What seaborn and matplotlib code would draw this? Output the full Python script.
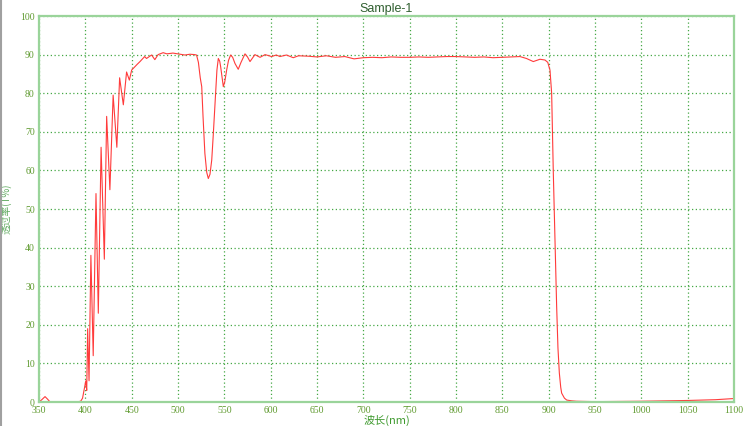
import matplotlib
matplotlib.use('Agg')
import matplotlib.pyplot as plt
import seaborn as sns
from matplotlib.lines import Line2D

# wavelength (nm) and transmittance (%)
wavelength = [350, 353, 356.5, 359, 362, 370, 380, 390, 395, 397, 399, 400.5, 401.5, 402.5,
              404, 406, 408.5, 411.5, 414, 417, 420.5, 423, 426.5, 430, 434, 437, 441, 444.5,
              447.5, 450, 452, 456, 459, 464, 466, 471.5, 475, 478.5, 484, 488, 494.5, 500,
              507.5, 513, 518, 520, 522, 524, 525.6, 527, 529, 531, 532.7, 534.5, 536.4, 538,
              540, 542, 543.5, 545, 546, 548.9, 550.5, 552.5, 554.5, 556.8, 559, 561.5, 565,
              568, 572.3, 575, 577.7, 580, 583, 588.5, 594, 601, 606, 610, 617, 624.4, 630,
              640, 650, 660, 670, 680, 690, 700, 710, 720, 730, 740, 750, 760, 770, 780, 790,
              800, 810, 820, 830, 840, 850, 860, 869, 876, 883.4, 890.6, 896, 899, 901.4,
              903.2, 905, 906.8, 908.6, 910, 911.5, 913, 914, 917, 919.5, 925, 930, 950,
              1000, 1050, 1080, 1100]
transmittance = [0.0, 0.6, 1.4, 0.8, 0.0, 0.0, 0.0, 0.0, 0.2, 1.0, 3.5, 5.5, 3.0, 19,
                 5.5, 38, 12, 54, 23, 66, 37, 74, 55, 79.5, 66, 84, 77, 85.5,
                 83.4, 86, 86.5, 87.5, 88.2, 89.5, 89, 89.9, 88.7, 90, 90.5, 90.2, 90.4, 90.2,
                 89.9, 90.1, 90, 89.9, 88, 84, 81.7, 74, 64.4, 59.5, 57.9, 59, 62.7, 69,
                 77.4, 86, 89, 88.3, 86.9, 81.7, 83, 86, 88.5, 89.9, 89.3, 87.7, 86.2,
                 88, 90.2, 89.4, 88.2, 89, 90, 89.3, 90, 89.5, 89.9, 89.5, 89.9, 89.2, 89.7,
                 89.6, 89.4, 89.7, 89.3, 89.5, 88.9, 89.2, 89.3, 89.2, 89.4, 89.3, 89.3, 89.4,
                 89.3, 89.4, 89.5, 89.5, 89.4, 89.3, 89.4, 89.2, 89.3, 89.4, 89.5, 89, 88.2,
                 88.8, 88.6, 88, 86, 80, 59.3, 42, 24.7, 14, 7.5, 3.8, 2.3, 1, 0.5, 0.3, 0.2,
                 0.1, 0.2, 0.4, 0.6, 0.9]

x_ticks = list(range(350, 1101, 50))
y_ticks = list(range(0, 101, 10))

sns.set_style('white')
plt.rcParams['font.family'] = ['Liberation Serif', 'DejaVu Sans']

fig = plt.figure(figsize=(7.5, 4.26), dpi=100)
ax = fig.add_axes([0.052, 0.0563, 0.9267, 0.9061])

sns.lineplot(x=wavelength, y=transmittance, color='#ff3b3b', linewidth=0.8,
             sort=False, estimator=None, ax=ax)

ax.set_xlim(350, 1100)
ax.set_ylim(0, 100)
ax.set_xticks(x_ticks)
ax.set_yticks(y_ticks)
ax.grid(True, color='#45a845', linestyle=(0, (1, 2)), linewidth=0.9)
ax.tick_params(length=0, labelsize=7, labelcolor='#5f9a2f', pad=3)
for s in ax.spines.values():
    s.set_color('#9ad49a')
    s.set_linewidth(1.6)

ax.set_title('Sample-1', fontsize=9, color='#2f5f2f', family=['Liberation Sans'], pad=3)
ax.set_xlabel('波长(nm)', fontsize=8, color='#3f9a2f',
              family=['Noto Sans CJK SC', 'DejaVu Sans'], labelpad=0)
ax.set_ylabel('透过率(T%)', fontsize=7, color='#5faa5f',
              family=['Noto Sans CJK SC', 'DejaVu Sans'], labelpad=6)

fig.add_artist(Line2D([0.001, 0.001], [0, 1], transform=fig.transFigure,
                      color='#a0a0a0', linewidth=1.5))

fig.savefig('out.png', dpi=100)
